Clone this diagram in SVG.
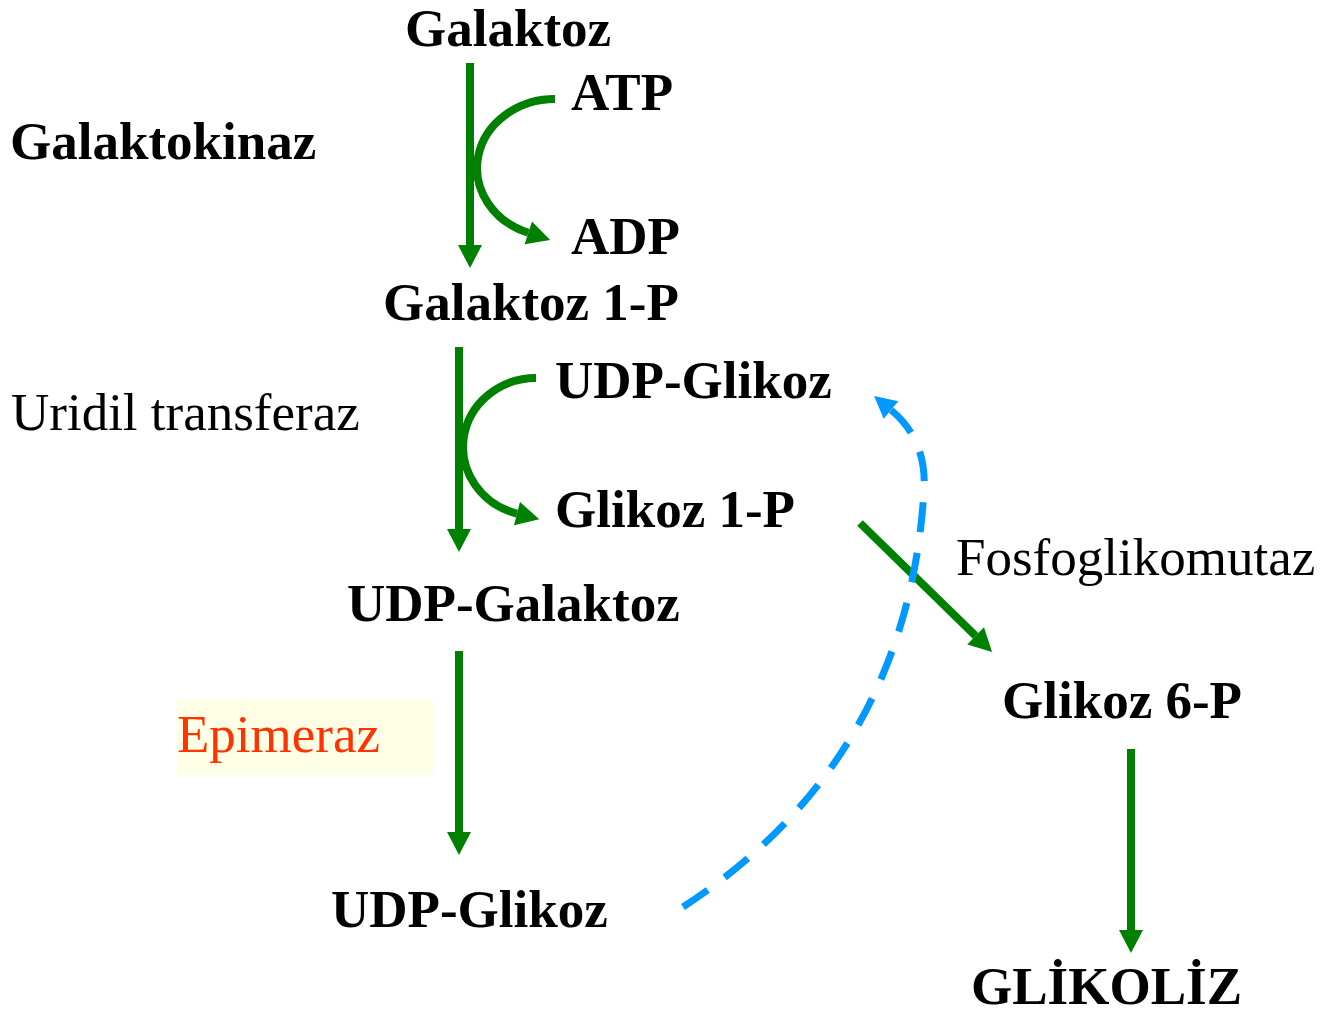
<svg xmlns="http://www.w3.org/2000/svg" width="1323" height="1013" viewBox="0 0 1323 1013">
<style>
.b{font-family:"Liberation Serif","Times New Roman",serif;font-weight:bold;font-size:53px;fill:#000}
.r{font-family:"Liberation Serif","Times New Roman",serif;font-size:53px;fill:#000}
.g{fill:none;stroke:#008000;stroke-width:8}
.bl{fill:none;stroke:#0099FF;stroke-width:7;stroke-dasharray:30 21}
</style>
<defs>
<marker id="ag" markerUnits="userSpaceOnUse" markerWidth="24" markerHeight="24" refX="0" refY="12" orient="auto" overflow="visible">
<path d="M0,0 L23,12 L0,24 z" fill="#008000"/>
</marker>
<marker id="ab" markerUnits="userSpaceOnUse" markerWidth="22" markerHeight="24" refX="0" refY="11.5" orient="auto" overflow="visible">
<path d="M0,0 L22,11.5 L0,23 z" fill="#0099FF"/>
</marker>
</defs>
<rect x="0" y="0" width="1323" height="1013" fill="#fff"/>
<g id="connectors">
<path class="g" d="M470,63 L470,245" marker-end="url(#ag)"/>
<path class="g" d="M555,99 A78,69 0 0 0 528.3,232.8" marker-end="url(#ag)"/>
<path class="g" d="M459,347 L459,529" marker-end="url(#ag)"/>
<path class="g" d="M536,378 A73,69 0 0 0 517,513.6" marker-end="url(#ag)"/>
<path class="g" d="M459,651 L459,832" marker-end="url(#ag)"/>
<path class="g" d="M860,523 L975.6,635.9" marker-end="url(#ag)"/>
<path class="g" d="M1131,749 L1131,930" marker-end="url(#ag)"/>
<path class="bl" d="M683,907 Q908,760 924,490 Q927,440 891,410" marker-end="url(#ab)"/>
</g>
<g id="galaktoz"><text class="b" x="405" y="46">Galaktoz</text></g>
<g id="galaktokinaz"><text class="b" x="10" y="159">Galaktokinaz</text></g>
<g id="atp"><text class="b" x="571" y="110">ATP</text></g>
<g id="adp"><text class="b" x="571" y="254">ADP</text></g>
<g id="galaktoz1p"><text class="b" x="383" y="320">Galaktoz 1-P</text></g>
<g id="udpglikoz1"><text class="b" x="555" y="398">UDP-Glikoz</text></g>
<g id="uridil"><text class="r" x="11" y="430">Uridil transferaz</text></g>
<g id="glikoz1p"><text class="b" x="555" y="527">Glikoz 1-P</text></g>
<g id="fosfoglikomutaz"><text class="r" x="956" y="575">Fosfoglikomutaz</text></g>
<g id="udpgalaktoz"><text class="b" x="347" y="621">UDP-Galaktoz</text></g>
<g id="glikoz6p"><text class="b" x="1002" y="718">Glikoz 6-P</text></g>
<g id="epimeraz"><rect x="177" y="699" width="256" height="76" fill="#FFFFE6"/><text class="r" x="177" y="752" style="fill:#FF3300">Epimeraz</text></g>
<g id="udpglikoz2"><text class="b" x="331" y="927">UDP-Glikoz</text></g>
<g id="glikoliz"><text class="b" x="971" y="1004">GLİKOLİZ</text></g>
</svg>
